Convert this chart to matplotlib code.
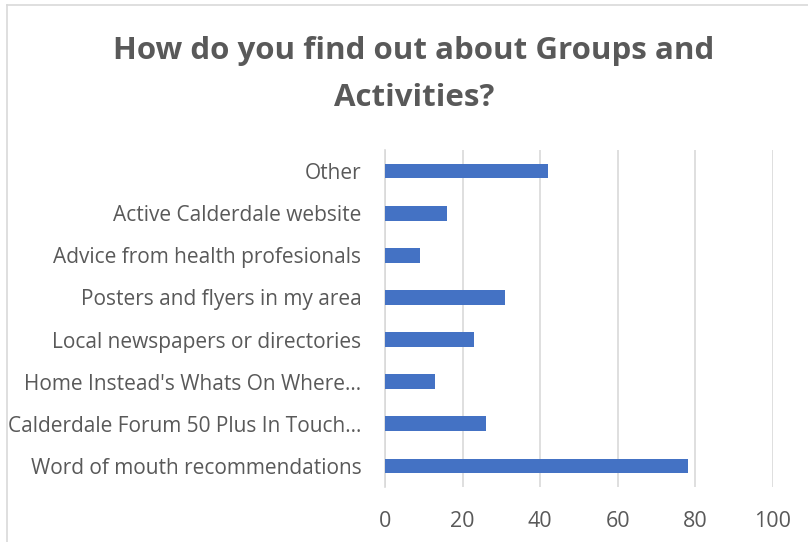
import matplotlib.pyplot as plt

# data (bottom to top)
categories = [
    "Word of mouth recommendations",
    "Calderdale Forum 50 Plus In Touch…",
    "Home Instead's Whats On Where…",
    "Local newspapers or directories",
    "Posters and flyers in my area",
    "Advice from health profesionals",
    "Active Calderdale website",
    "Other",
]
counts = [78, 26, 13, 23, 31, 9, 16, 42]
x_ticks = [0, 20, 40, 60, 80, 100]

plt.rcParams['font.family'] = ['Open Sans', 'DejaVu Sans']
grey = '#595959'

fig = plt.figure(figsize=(8.08, 5.42), dpi=100)
ax = fig.add_axes([385 / 808, 1 - 487 / 542, 388 / 808, 337 / 542])

ax.barh(range(len(categories)), counts, height=0.35, color='#4472C4', zorder=3)

ax.set_xlim(0, 100)
ax.set_ylim(-0.5, len(categories) - 0.5)
ax.set_xticks(x_ticks)
ax.set_yticks(range(len(categories)))
ax.set_yticklabels(categories)
ax.tick_params(axis='both', length=0, colors=grey)
ax.tick_params(axis='x', pad=17, labelsize=15.5)
ax.tick_params(axis='y', pad=17, labelsize=15)
ax.grid(axis='x', color='#d9d9d9', linewidth=1.2, zorder=0)
for s in ['top', 'right', 'bottom']:
    ax.spines[s].set_visible(False)
ax.spines['left'].set_color('#d9d9d9')
ax.spines['left'].set_linewidth(1.2)

fig.text(0.512, 0.862, "How do you find out about Groups and\nActivities?",
         ha='center', va='center', fontsize=22.5, fontweight='bold', color=grey,
         linespacing=1.75)

# chart area frame (left and top edges visible)
fig.add_artist(plt.Line2D([7 / 808, 7 / 808], [0, 1 - 5 / 542], color='#d9d9d9', linewidth=1.2))
fig.add_artist(plt.Line2D([7 / 808, 1], [1 - 5 / 542, 1 - 5 / 542], color='#d9d9d9', linewidth=1.2))

fig.savefig('out.png', dpi=100)
